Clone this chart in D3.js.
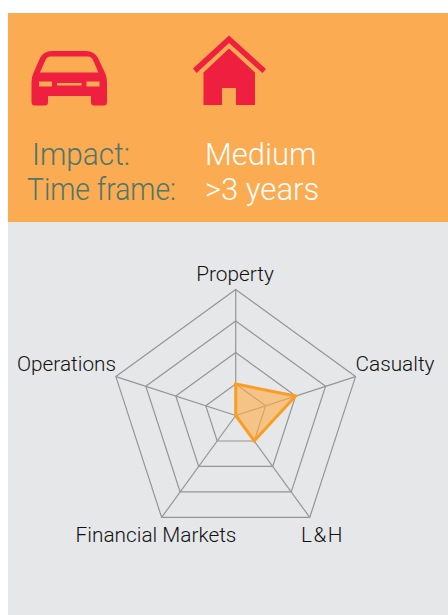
<!DOCTYPE html>
<html>
<head>
<meta charset="utf-8">
<script src="https://cdn.jsdelivr.net/npm/d3@7/dist/d3.min.js"></script>
<style>
  html, body { margin: 0; padding: 0; background: #fff; }
  svg { display: block; }
  text { font-family: Roboto, sans-serif; }
</style>
</head>
<body>
<div id="chart-area"></div>
<script>
var categories = ["Property", "Casualty", "L&H", "Financial Markets", "Operations"];
var values = [1, 2, 1, 0, 0];
var ringLevels = [1, 2, 3, 4];
var infoLabels = ["Impact:", "Time frame:"];
var infoValues = ["Medium", ">3 years"];

var width = 448;
var height = 615;
var center = { x: 235.7, y: 415.5 };
var outerRadius = 126;

var svg = d3.select("#chart-area")
  .append("svg")
  .attr("width", width)
  .attr("height", height);

// header and chart panels
svg.append("rect")
  .attr("x", 8).attr("y", 13)
  .attr("width", width - 8).attr("height", 209)
  .attr("fill", "#fbab51");

svg.append("rect")
  .attr("x", 8).attr("y", 222)
  .attr("width", width - 8).attr("height", height - 222)
  .attr("fill", "#e6e7e9");

// car icon
svg.append("path")
  .attr("fill", "#ee1f3f")
  .attr("fill-rule", "evenodd")
  .attr("d", "M52 51H86Q94 51 98 58L105 73Q107 77 107 82V102Q107 105.500 104 105.500H94Q91 105.500 91 102V96H48V102Q48 105.500 45 105.500H35Q31.500 105.500 31.500 102V82Q31.500 77 33.500 73L40 58Q44 51 52 51Z"
    + "M50 56.500Q47 56.500 45.500 60L40 72.500H98.500L93 60Q91.500 56.500 88 56.500Z"
    + "M39 81.500V86.500H52V81.500Z M57 83V85.500H81.500V83Z M86.500 81.500V86.500H99.500V81.500Z");

// house icon
svg.append("path")
  .attr("fill", "#ee1f3f")
  .attr("fill-rule", "evenodd")
  .attr("d", "M229 35.500L266 69L262.500 73L229 43L196.500 73L193 68.500Z"
    + "M229 48.500L255 72.500V105H236V88H222V105H203.500V72.500Z");

// header text
var infoY = [165, 200];
var labelX = [32, 27];
var labelWidth = [98, 149];

svg.selectAll(".info-label")
  .data(infoLabels)
  .enter()
  .append("text")
  .attr("class", "info-label")
  .attr("x", function(d, i){ return labelX[i]; })
  .attr("y", function(d, i){ return infoY[i]; })
  .attr("font-size", 31)
  .attr("font-weight", 300)
  .attr("fill", "#4f766b")
  .attr("textLength", function(d, i){ return labelWidth[i]; })
  .attr("lengthAdjust", "spacingAndGlyphs")
  .text(function(d){ return d; });

svg.selectAll(".info-value")
  .data(infoValues)
  .enter()
  .append("text")
  .attr("class", "info-value")
  .attr("x", 205)
  .attr("y", function(d, i){ return infoY[i]; })
  .attr("font-size", 31)
  .attr("font-weight", 300)
  .attr("fill", "#fff")
  .text(function(d){ return d; });

// radar
var r = d3.scaleLinear()
  .domain([0, d3.max(ringLevels)])
  .range([0, outerRadius]);

var angle = d3.scalePoint()
  .domain(categories)
  .range([0, 2 * Math.PI * (categories.length - 1) / categories.length]);

var g = svg.append("g")
  .attr("transform", "translate(" + center.x + ", " + center.y + ")");

var ringLine = d3.lineRadial()
  .angle(function(d){ return angle(d); })
  .curve(d3.curveLinearClosed);

g.selectAll(".ring")
  .data(ringLevels)
  .enter()
  .append("path")
  .attr("class", "ring")
  .attr("fill", "none")
  .attr("stroke", "#949597")
  .attr("stroke-width", 1.2)
  .attr("d", function(level){
    return ringLine.radius(r(level))(categories);
  });

g.selectAll(".spoke")
  .data(categories)
  .enter()
  .append("line")
  .attr("class", "spoke")
  .attr("stroke", "#949597")
  .attr("stroke-width", 1.2)
  .attr("x2", function(d){ return r(4) * Math.sin(angle(d)); })
  .attr("y2", function(d){ return -r(4) * Math.cos(angle(d)); });

var valueLine = d3.lineRadial()
  .angle(function(d, i){ return angle(categories[i]); })
  .radius(function(d){ return r(d); })
  .curve(d3.curveLinearClosed);

g.append("path")
  .attr("d", valueLine(values))
  .attr("fill", "#ffab44")
  .attr("fill-opacity", 0.6)
  .attr("stroke", "#f99d25")
  .attr("stroke-width", 3)
  .attr("stroke-linejoin", "miter");

// category labels
var labelPos = {
  "Property": { x: 235, y: 281 },
  "Casualty": { x: 395, y: 371 },
  "L&H": { x: 322.500, y: 542 },
  "Financial Markets": { x: 156, y: 542 },
  "Operations": { x: 66.500, y: 371 }
};

svg.selectAll(".cat-label")
  .data(categories)
  .enter()
  .append("text")
  .attr("class", "cat-label")
  .attr("x", function(d){ return labelPos[d].x; })
  .attr("y", function(d){ return labelPos[d].y; })
  .attr("text-anchor", "middle")
  .attr("font-size", 20.8)
  .attr("font-weight", 300)
  .attr("letter-spacing", function(d){ return d == "L&H" ? 1.5 : 0; })
  .attr("fill", "#111")
  .text(function(d){ return d; });
</script>
</body>
</html>
